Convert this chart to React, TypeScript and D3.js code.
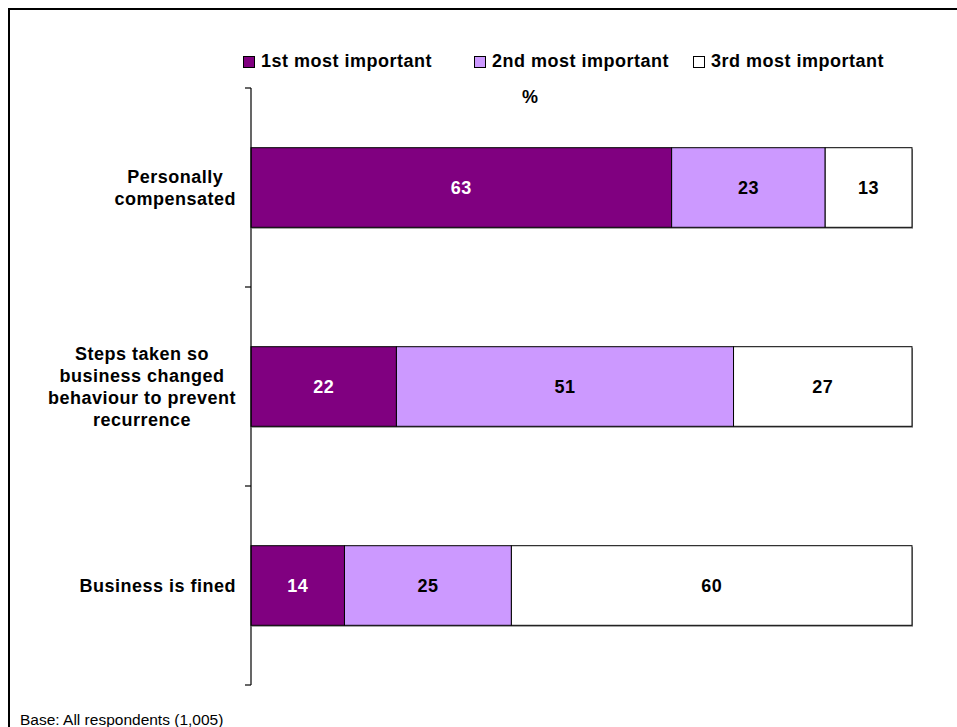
import React, { useEffect, useRef } from "react";
import * as d3 from "d3";

const categoryLines: string[][] = [
  ["Personally", "compensated"],
  ["Steps taken so", "business changed", "behaviour to prevent", "recurrence"],
  ["Business is fined"],
];
const seriesNames = ["1st most important", "2nd most important", "3rd most important"];
const firstImportant = [63, 22, 14];
const secondImportant = [23, 51, 25];
const thirdImportant = [13, 27, 60];
const seriesColors = ["#800080", "#CC99FF", "#FFFFFF"];
const labelColors = ["#FFFFFF", "#000000", "#000000"];
const axisTitle = "%";
const baseNote = "Base: All respondents (1,005)";

const FONT = "Arial, 'Liberation Sans', sans-serif";

export default function App() {
  const ref = useRef<SVGSVGElement>(null);

  useEffect(() => {
    const svg = d3.select(ref.current);
    svg.selectAll("*").remove();

    // outer frame (extends beyond the viewport)
    svg.append("rect")
      .attr("x", 9).attr("y", 9)
      .attr("width", 1200).attr("height", 1000)
      .attr("fill", "#fff").attr("stroke", "#000").attr("stroke-width", 2);

    const rows = categoryLines.map((lines, i) => ({
      key: String(i),
      lines,
      s0: firstImportant[i],
      s1: secondImportant[i],
      s2: thirdImportant[i],
    }));

    const y = d3.scaleBand<string>()
      .domain(rows.map((r) => r.key))
      .range([88, 685])
      .paddingInner(0.6)
      .paddingOuter(0.3);
    const yTicks = d3.scaleBand<string>().domain(rows.map((r) => r.key)).range([88, 685]);
    const x = d3.scaleLinear().domain([0, 1]).range([251, 912]);

    const stack = d3.stack<any>().keys(["s0", "s1", "s2"]).offset(d3.stackOffsetExpand);
    const stacked = stack(rows as any);

    // shadows
    const g = svg.append("g");
    rows.forEach((r) => {
      g.append("rect")
        .attr("x", x(0) + 1)
        .attr("y", (y(r.key) as number) + 1.5)
        .attr("width", x(1) - x(0))
        .attr("height", y.bandwidth())
        .attr("fill", "#909090");
    });

    stacked.forEach((layer, si) => {
      layer.forEach((seg, ri) => {
        const r = rows[ri];
        const x0 = x(seg[0]);
        const x1 = x(seg[1]);
        const yy = y(r.key) as number;
        g.append("rect")
          .attr("x", x0).attr("y", yy)
          .attr("width", x1 - x0).attr("height", y.bandwidth())
          .attr("fill", seriesColors[si])
          .attr("stroke", "#000").attr("stroke-width", 1);
        const v = (r as any)[`s${si}`];
        g.append("text")
          .attr("x", (x0 + x1) / 2)
          .attr("y", yy + y.bandwidth() / 2 + 6.5)
          .attr("text-anchor", "middle")
          .attr("font-family", FONT).attr("font-weight", "bold")
          .attr("font-size", 18).attr("letter-spacing", 0.5)
          .attr("fill", labelColors[si])
          .text(v);
      });
    });

    // axis line + ticks
    const ax = svg.append("g");
    ax.append("line").attr("x1", 251).attr("x2", 251).attr("y1", 88).attr("y2", 685)
      .attr("stroke", "#000").attr("stroke-width", 1.2);
    const tickYs = rows.map((r) => yTicks(r.key) as number).concat([685]);
    tickYs.forEach((ty) => {
      ax.append("line").attr("x1", 245).attr("x2", 251).attr("y1", ty).attr("y2", ty)
        .attr("stroke", "#000").attr("stroke-width", 1.2);
    });

    // category labels (block right-aligned, lines centred)
    const lineH = 21.8;
    rows.forEach((r) => {
      const cy = (yTicks(r.key) as number) + yTicks.bandwidth() / 2;
      const grp = svg.append("g");
      const texts = r.lines.map((ln, li) =>
        grp.append("text")
          .attr("y", cy + (li - (r.lines.length - 1) / 2) * lineH + 6.5)
          .attr("text-anchor", "middle")
          .attr("font-family", FONT).attr("font-weight", "bold")
          .attr("font-size", 18).attr("letter-spacing", 0.5)
          .attr("fill", "#000")
          .text(ln)
      );
      const maxW = d3.max(texts, (t) => (t.node() as SVGTextElement).getComputedTextLength()) || 0;
      texts.forEach((t) => t.attr("x", 236 - maxW / 2));
    });

    // legend
    const legendX = [243, 474, 693];
    seriesNames.forEach((name, i) => {
      svg.append("rect")
        .attr("x", legendX[i] + 0.5).attr("y", 56.5)
        .attr("width", 11).attr("height", 11)
        .attr("fill", seriesColors[i]).attr("stroke", "#000").attr("stroke-width", 1);
      svg.append("text")
        .attr("x", legendX[i] + 18).attr("y", 67)
        .attr("font-family", FONT).attr("font-weight", "bold")
        .attr("font-size", 18).attr("letter-spacing", 0.5)
        .attr("fill", "#000")
        .text(name);
    });

    // axis title
    svg.append("text")
      .attr("x", 530).attr("y", 103)
      .attr("text-anchor", "middle")
      .attr("font-family", FONT).attr("font-weight", "bold")
      .attr("font-size", 18)
      .text(axisTitle);

    // base note
    svg.append("text")
      .attr("x", 20).attr("y", 725)
      .attr("font-family", FONT)
      .attr("font-size", 15.5)
      .attr("fill", "#000")
      .text(baseNote);
  }, []);

  return (
    <svg
      ref={ref}
      width={957}
      height={727}
      style={{ position: "absolute", left: 0, top: 0, display: "block" }}
    />
  );
}
